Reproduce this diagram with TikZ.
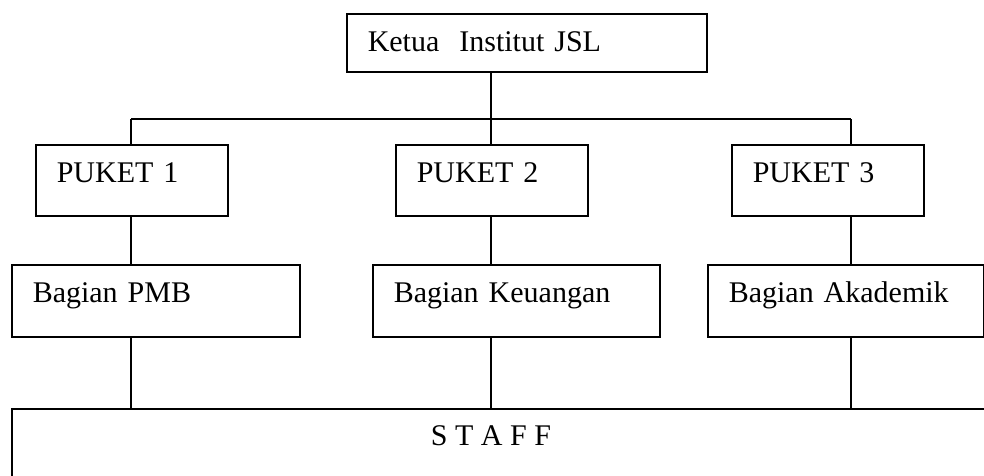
\documentclass[tikz,border=0pt]{standalone}
\usepackage{fontspec}
\setmainfont{Liberation Serif}
\tikzset{
  unit/.style={draw, line width=1.5pt, anchor=north west, align=left,
    inner xsep=21pt, inner ysep=0pt, text height=38pt,
    font=\fontsize{30}{36}\selectfont},
  link/.style={line width=1.2pt},
}
\begin{document}
\begin{tikzpicture}[x=1pt, y=-1pt]
    \clip (0,0) rectangle (984,475);

    \node[unit, text width=318pt, text depth=20pt] (ketua) at (346,13) {Ketua\ \ Institut JSL};

    \node[unit, text width=150pt, text depth=33pt] (p1) at (35,144) {PUKET 1};
    \node[unit, text width=150pt, text depth=33pt] (p2) at (395,144) {PUKET 2};
    \node[unit, text width=150pt, text depth=33pt] (p3) at (731,144) {PUKET 3};

    \node[unit, text width=246pt, text depth=34pt] (pmb) at (11,264) {Bagian PMB};
    \node[unit, text width=245pt, text depth=34pt] (keu) at (372,264) {Bagian Keuangan};
    \node[unit, text width=234pt, text depth=34pt] (akd) at (707,264) {Bagian Akademik};

    \node[draw, line width=1.5pt, anchor=north west, minimum width=1000pt,
      minimum height=100pt] (staff) at (11,408) {};
    \node[font=\fontsize{30}{36}\selectfont] (stafftxt) at (491,436) {S T A F F};

    % columns of the chart
    \coordinate (c1) at (131,119);
    \coordinate (c2) at (491,119);
    \coordinate (c3) at (851,119);

    \draw[link] (ketua.south -| c2) -- (c2);
    \draw[link] (c1) -- (c3);
    \foreach \c/\a/\b in {c1/p1/pmb, c2/p2/keu, c3/p3/akd} {
      \draw[link] (\c) -- (\c |- \a.north);
      \draw[link] (\c |- \a.south) -- (\c |- \b.north);
      \draw[link] (\c |- \b.south) -- (\c |- staff.north);
    }
\end{tikzpicture}
\end{document}
